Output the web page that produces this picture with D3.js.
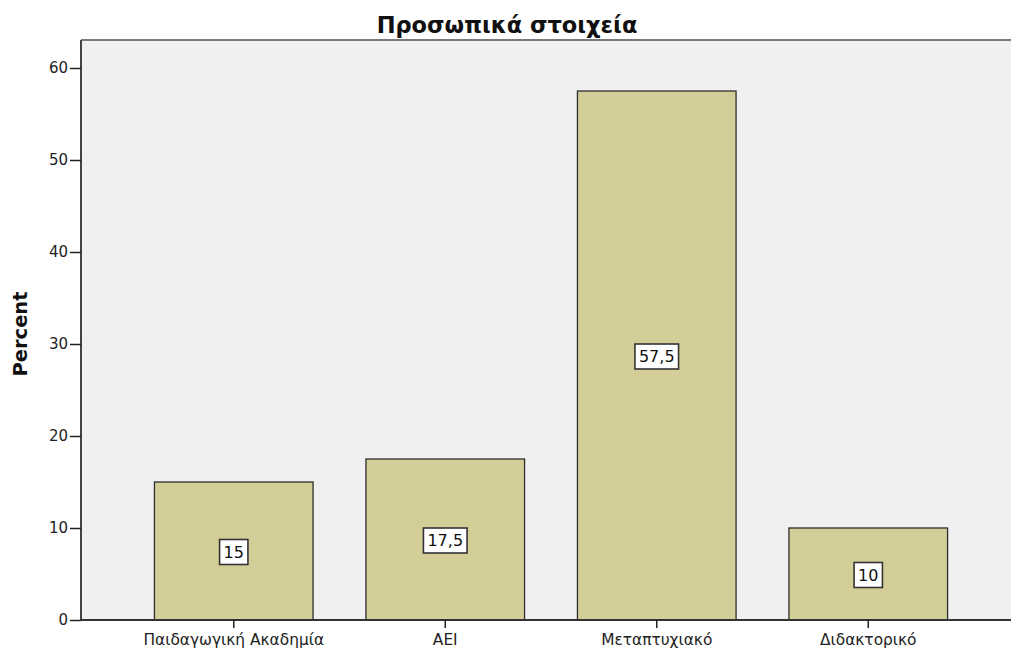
<!DOCTYPE html>
<html>
<head>
<meta charset="utf-8">
<script src="https://cdn.jsdelivr.net/npm/d3@7"></script>
<style>
  html, body { margin: 0; padding: 0; background: #ffffff; }
  svg { display: block; font-family: "DejaVu Sans", Verdana, sans-serif; }
</style>
</head>
<body>
<svg id="chart" width="1011" height="649"></svg>
<script>
// Education level distribution (percent)
const categories = ["Παιδαγωγική Ακαδημία", "ΑΕΙ", "Μεταπτυχιακό", "Διδακτορικό"];
const percents = [15, 17.5, 57.5, 10];
const yTicks = [0, 10, 20, 30, 40, 50, 60];
const chartTitle = "Προσωπικά στοιχεία";
const yTitle = "Percent";

const FONT = "DejaVu Sans, Verdana, sans-serif";
const svg = d3.select("#chart");
const plot = { left: 81, top: 40, right: 1011, bottom: 620 };

const x = d3.scaleBand()
  .domain(categories)
  .range([128, 974])
  .paddingInner(0.25)
  .paddingOuter(0.125);

const y = d3.scaleLinear()
  .domain([0, 60])
  .range([plot.bottom, plot.bottom - 552]);

// plot background
svg.append("rect")
  .attr("x", plot.left).attr("y", plot.top)
  .attr("width", plot.right - plot.left).attr("height", plot.bottom - plot.top)
  .attr("fill", "#f0f0f0");

// top frame line
svg.append("line")
  .attr("x1", plot.left).attr("x2", plot.right)
  .attr("y1", plot.top).attr("y2", plot.top)
  .attr("stroke", "#7a7a7a").attr("stroke-width", 2);

// bars
svg.append("g").selectAll("rect")
  .data(percents)
  .join("rect")
  .attr("x", (d, i) => x(categories[i]))
  .attr("y", d => y(d))
  .attr("width", x.bandwidth())
  .attr("height", d => y(0) - y(d))
  .attr("fill", "#d3ce98")
  .attr("stroke", "#2e2e2e")
  .attr("stroke-width", 1.3);

// y axis
const yAxis = svg.append("g")
  .attr("transform", `translate(${plot.left},0)`)
  .call(d3.axisLeft(y).tickValues(yTicks).tickSize(11).tickPadding(2).tickFormat(d3.format("d")));
yAxis.select(".domain").attr("stroke", "#444").attr("stroke-width", 2)
  .attr("d", `M0,${plot.top}V${plot.bottom}`);
yAxis.selectAll(".tick line").attr("stroke", "#222").attr("stroke-width", 1.5);
yAxis.selectAll(".tick text").attr("font-size", 15).attr("fill", "#222")
  .attr("font-family", FONT);

// x axis
const xAxis = svg.append("g")
  .attr("transform", `translate(0,${plot.bottom})`)
  .call(d3.axisBottom(x).tickSize(8).tickPadding(6));
xAxis.select(".domain").attr("stroke", "#333").attr("stroke-width", 2)
  .attr("d", `M${plot.left},0H${plot.right}`);
xAxis.selectAll(".tick line").attr("stroke", "#222").attr("stroke-width", 1.5);
xAxis.selectAll(".tick text").attr("font-size", 15.4).attr("fill", "#222")
  .attr("font-family", FONT);

// value labels in boxes at mid-height of each bar
const fmt = v => String(v).replace(".", ",");
const labels = svg.append("g").selectAll("g")
  .data(percents)
  .join("g")
  .attr("transform", (d, i) => `translate(${x(categories[i]) + x.bandwidth() / 2},${y(d / 2) + 1})`);
labels.append("text")
  .attr("text-anchor", "middle")
  .attr("dy", "0.36em")
  .attr("font-size", 16)
  .attr("fill", "#111")
  .text(d => fmt(d));
labels.each(function () {
  const g = d3.select(this);
  const bb = g.select("text").node().getBBox();
  g.insert("rect", "text")
    .attr("x", bb.x - 4).attr("y", -12.5)
    .attr("width", bb.width + 8).attr("height", 25)
    .attr("fill", "#ffffff")
    .attr("stroke", "#333").attr("stroke-width", 1.6);
});

// title
svg.append("text")
  .attr("x", 507).attr("y", 33)
  .attr("text-anchor", "middle")
  .attr("font-size", 22.5)
  .attr("font-weight", "bold")
  .attr("fill", "#111")
  .text(chartTitle);

// y axis title
svg.append("text")
  .attr("transform", "translate(27,334) rotate(-90)")
  .attr("text-anchor", "middle")
  .attr("font-size", 19.5)
  .attr("font-weight", "bold")
  .attr("fill", "#111")
  .text(yTitle);
</script>
</body>
</html>
